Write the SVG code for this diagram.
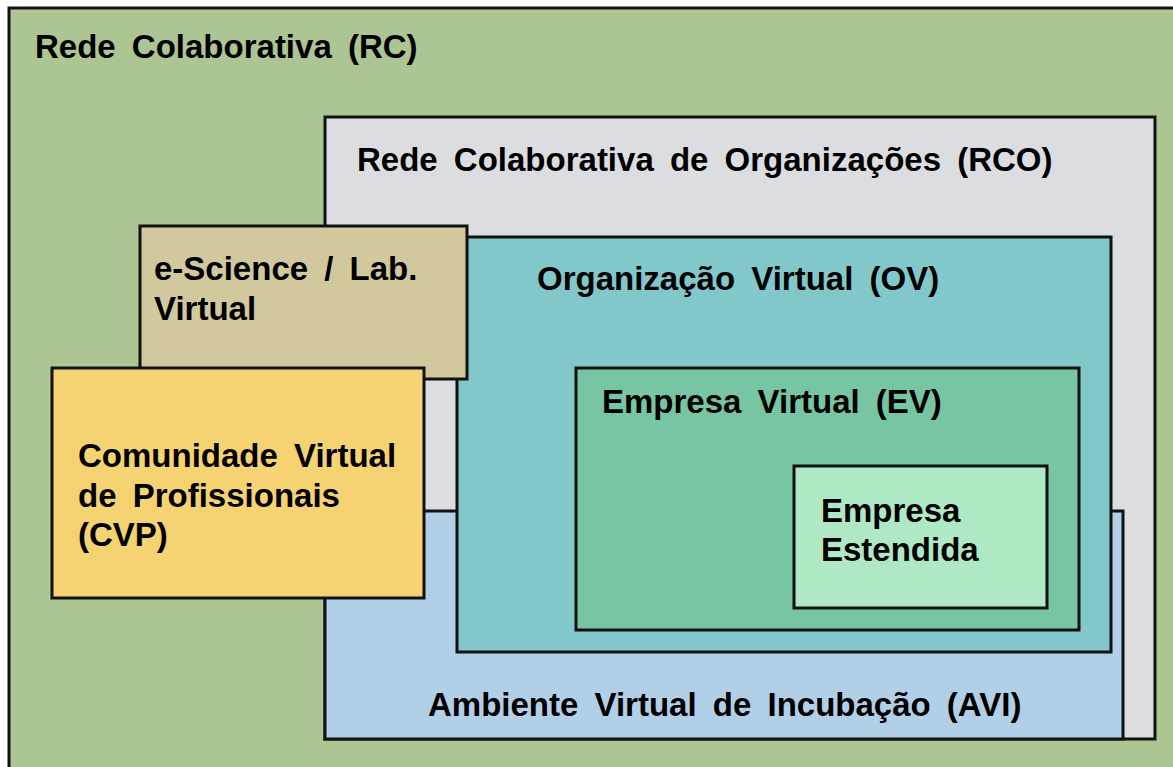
<svg xmlns="http://www.w3.org/2000/svg" width="1173" height="767" viewBox="0 0 1173 767">
<style>
rect{stroke:#111;stroke-width:3}
text{font-family:"Liberation Sans",Arial,sans-serif;font-weight:bold;font-size:33px;fill:#000;word-spacing:7px}
</style>
<rect x="0" y="0" width="1173" height="767" fill="#fff" style="stroke:none"/>
<g id="rc"><rect x="9" y="8" width="1170" height="770" fill="#adc493"/><text x="35" y="58">Rede Colaborativa (RC)</text></g>
<g id="rco"><rect x="325" y="117" width="830" height="622" fill="#dcdde1"/><text x="357" y="171">Rede Colaborativa de Organizações (RCO)</text></g>
<g id="avi"><rect x="325" y="511" width="798" height="228" fill="#b2cfe8"/><text x="428" y="716">Ambiente Virtual de Incubação (AVI)</text></g>
<g id="ov"><rect x="457" y="237" width="654" height="415" fill="#82c8cb"/><text x="537" y="290">Organização Virtual (OV)</text></g>
<g id="ev"><rect x="576" y="368" width="503" height="262" fill="#78c5a4"/><text x="602" y="413">Empresa Virtual (EV)</text></g>
<g id="ee"><rect x="794" y="466" width="253" height="142" fill="#aee8c5"/><text x="821" y="522">Empresa</text><text x="821" y="561">Estendida</text></g>
<g id="esci"><rect x="140" y="226" width="327" height="153" fill="#d1c89e"/><text x="154" y="280">e-Science / Lab.</text><text x="154" y="320">Virtual</text></g>
<g id="cvp"><rect x="52" y="368" width="372" height="230" fill="#f5d272"/><text x="78" y="467">Comunidade Virtual</text><text x="78" y="507">de Profissionais</text><text x="78" y="546">(CVP)</text></g>
<g id="connectors"></g>
</svg>
